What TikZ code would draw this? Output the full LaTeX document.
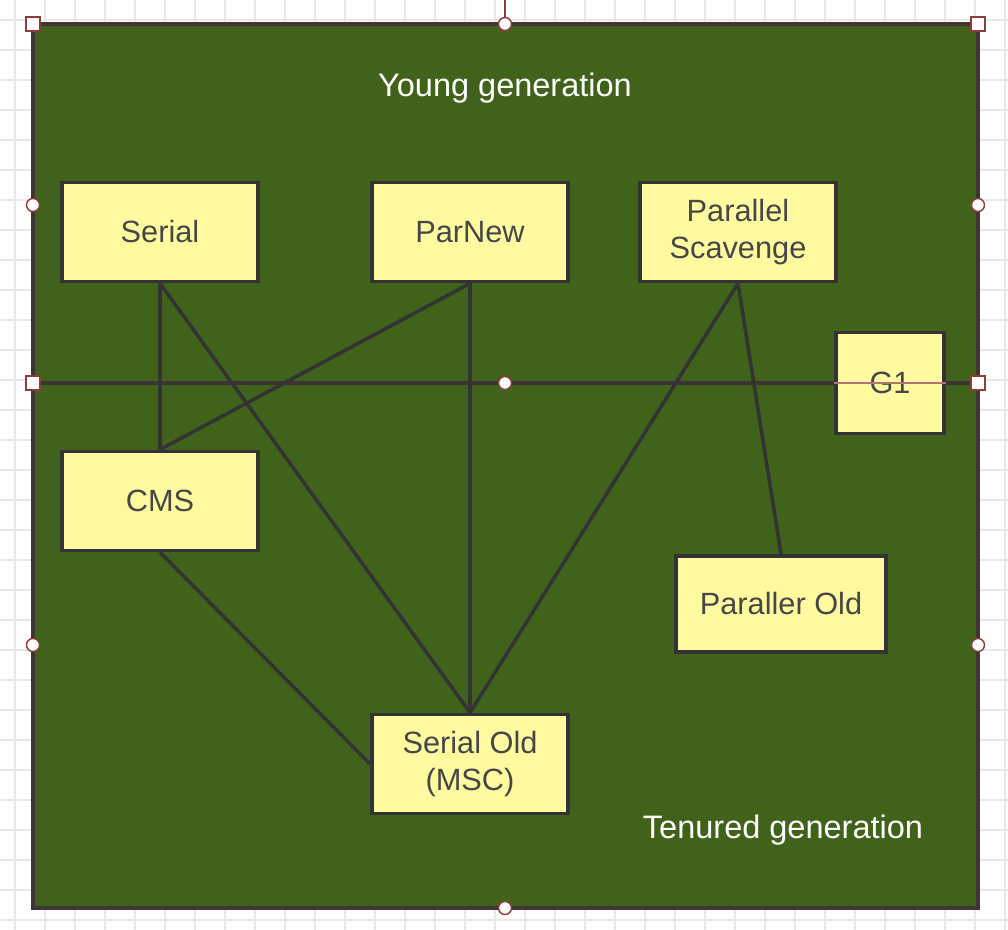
\documentclass[tikz,border=0pt]{standalone}
\usepackage{fontspec}
\setmainfont{Liberation Sans}
\usetikzlibrary{positioning}

\definecolor{heapgreen}{HTML}{40621B}
\definecolor{gcyellow}{HTML}{FFFA9F}
\definecolor{gcline}{HTML}{333333}
\definecolor{selred}{HTML}{8E3B3B}
\definecolor{gridgray}{HTML}{E8E8E8}

\begin{document}
\begin{tikzpicture}[x=0.02cm,y=-0.02cm,
    gc/.style={draw=gcline,line width=2.2pt,fill=gcyellow,text=gcline!90!white,
      font=\fontsize{17.5}{21.5}\selectfont,align=center,inner sep=0pt,
      minimum width=3.92cm,minimum height=1.98cm},
    link/.style={draw=gcline,line width=2pt},
    genname/.style={text=white,font=\fontsize{18.5}{22}\selectfont},
    sqhandle/.style={draw=selred,fill=white,line width=0.8pt,
      minimum size=0.28cm,inner sep=0pt},
    cihandle/.style={circle,draw=selred,fill=white,line width=0.8pt,
      minimum size=0.26cm,inner sep=0pt}]
  \useasboundingbox (0,0) rectangle (1008,930);

  % grid
  \foreach \x in {15,45,...,1005}
    \draw[gridgray,line width=0.8pt] (\x,0) -- (\x,930);
  \foreach \y in {20,50,...,920}
    \draw[gridgray,line width=0.8pt] (0,\y) -- (1008,\y);

  % heap
  \draw[fill=heapgreen,draw=gcline!85!selred,line width=2.2pt] (33,24) rectangle (978,908);

  \coordinate (rot) at (505,0);
  \coordinate (sepL) at (33,383);
  \coordinate (sepR) at (978,383);
  \draw[gcline!90!selred,line width=2pt] (sepL) -- (sepR);

  \node[genname] (young) at (505,88) {Young generation};
  \node[genname] (tenured) at (783,830) {Tenured generation};

  % collectors
  \node[gc] (serial) at (160,232) {Serial};
  \node[gc] (parnew) at (470,232) {ParNew};
  \node[gc] (pscav) at (738,232) {Parallel\\Scavenge};
  \node[gc,minimum width=2.16cm,minimum height=2.02cm] (g1) at (890,383) {G1};
  \node[gc] (cms) at (160,501) {CMS};
  \node[gc,minimum width=4.2cm,minimum height=1.92cm] (pold) at (781,604) {Paraller Old};
  \node[gc] (sold) at (470,764) {Serial Old\\(MSC)};

  \path[link]
    (serial.south) edge (cms.north)
    (serial.south) edge (sold.north)
    (parnew.south) edge (cms.north)
    (parnew.south) edge (sold.north)
    (pscav.south) edge (sold.north)
    (pscav.south) edge (pold.north)
    (cms.south) edge (sold.west)
    ;

  % selection
  \draw[selred!70,line width=0.7pt] (g1.west) -- (g1.east);
  \node[cihandle] (hT) at (505,24) {};
  \draw[selred,line width=0.8pt] (rot) -- (hT);
  \node[sqhandle] (hTL) at (33,24) {};
  \node[sqhandle] (hTR) at (978,24) {};
  \node[sqhandle] (hL) at (sepL) {};
  \node[sqhandle] (hR) at (sepR) {};
  \node[cihandle] (hM) at (505,383) {};
  \node[cihandle] (hUL) at (33,205) {};
  \node[cihandle] (hUR) at (978,205) {};
  \node[cihandle] (hDL) at (33,645) {};
  \node[cihandle] (hDR) at (978,645) {};
  \node[cihandle] (hB) at (505,908) {};
\end{tikzpicture}
\end{document}
